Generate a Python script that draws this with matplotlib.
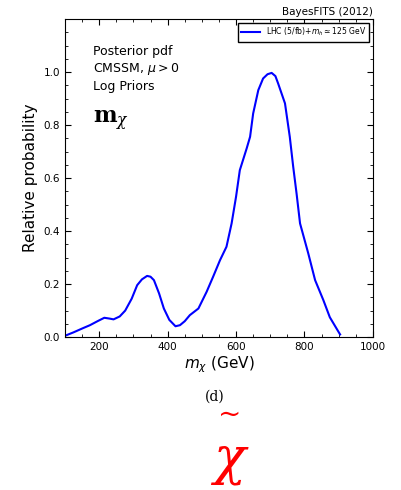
import matplotlib
matplotlib.use('Agg')
from matplotlib import pyplot as plt
from matplotlib.ticker import MultipleLocator

# values
m_chi = [100, 125, 153, 173, 195, 215, 230, 242, 260, 276, 295, 311, 325, 340, 350,
         360, 375, 389, 405, 423, 436, 450, 465, 490, 514, 533, 553, 572, 587, 600,
         611, 631, 641, 650, 665, 679, 692, 704, 715, 723, 743, 757, 767, 777, 787,
         811, 831, 855, 874, 904]
prob = [0.005, 0.018, 0.034, 0.045, 0.060, 0.073, 0.070, 0.067, 0.078, 0.100, 0.145, 0.196, 0.218, 0.231, 0.228,
        0.215, 0.165, 0.108, 0.065, 0.041, 0.045, 0.060, 0.083, 0.108, 0.171, 0.228, 0.290, 0.341, 0.429, 0.530,
        0.630, 0.712, 0.756, 0.844, 0.932, 0.976, 0.992, 0.997, 0.985, 0.957, 0.882, 0.756, 0.643, 0.540, 0.429,
        0.316, 0.215, 0.140, 0.075, 0.010]

legend_label = r'LHC (5/fb)+$m_h\simeq$125 GeV'

fig = plt.figure(figsize=(4.01, 4.9), dpi=100)
ax = fig.add_axes([0.162, 0.312, 0.768, 0.649])

ax.plot(m_chi, prob, color='blue', lw=1.5, label=legend_label)

ax.set_xlim(100, 1000)
ax.set_ylim(0, 1.2)
ax.set_xticks([200, 400, 600, 800, 1000])
ax.set_yticks([0.0, 0.2, 0.4, 0.6, 0.8, 1.0])
ax.xaxis.set_minor_locator(MultipleLocator(50))
ax.yaxis.set_minor_locator(MultipleLocator(0.05))
ax.tick_params(which='both', direction='in', top=True, right=True, labelsize=7.5)
ax.tick_params(which='major', length=4)
ax.tick_params(which='minor', length=2)

ax.set_xlabel(r'$m_\chi$ (GeV)', fontsize=11, labelpad=2)
ax.set_ylabel('Relative probability', fontsize=11)

ax.text(0.09, 0.92, 'Posterior pdf\nCMSSM, $\\mu>$0\nLog Priors', transform=ax.transAxes,
        fontsize=9, va='top', linespacing=1.3)
ax.text(0.09, 0.68, r'$\mathbf{m}_\chi$', transform=ax.transAxes, fontsize=16,
        va='center', math_fontfamily='dejavuserif')

leg = ax.legend(loc='upper right', fontsize=5.5, handlelength=2.5, borderpad=0.4,
                fancybox=False, framealpha=1)
leg.get_frame().set_edgecolor('black')

fig.text(0.93, 0.975, 'BayesFITS (2012)', ha='right', va='center', fontsize=7.5)

fig.text(0.536, 0.19, '(d)', ha='center', va='center', fontsize=10, family='serif')
fig.text(0.572, 0.153, '~', ha='center', va='center', fontsize=20, color='red',
         family='DejaVu Serif')
fig.text(0.572, 0.063, 'χ', ha='center', va='center', fontsize=38, color='red',
         family='DejaVu Serif', style='italic')

fig.savefig('out.png', dpi=100)
